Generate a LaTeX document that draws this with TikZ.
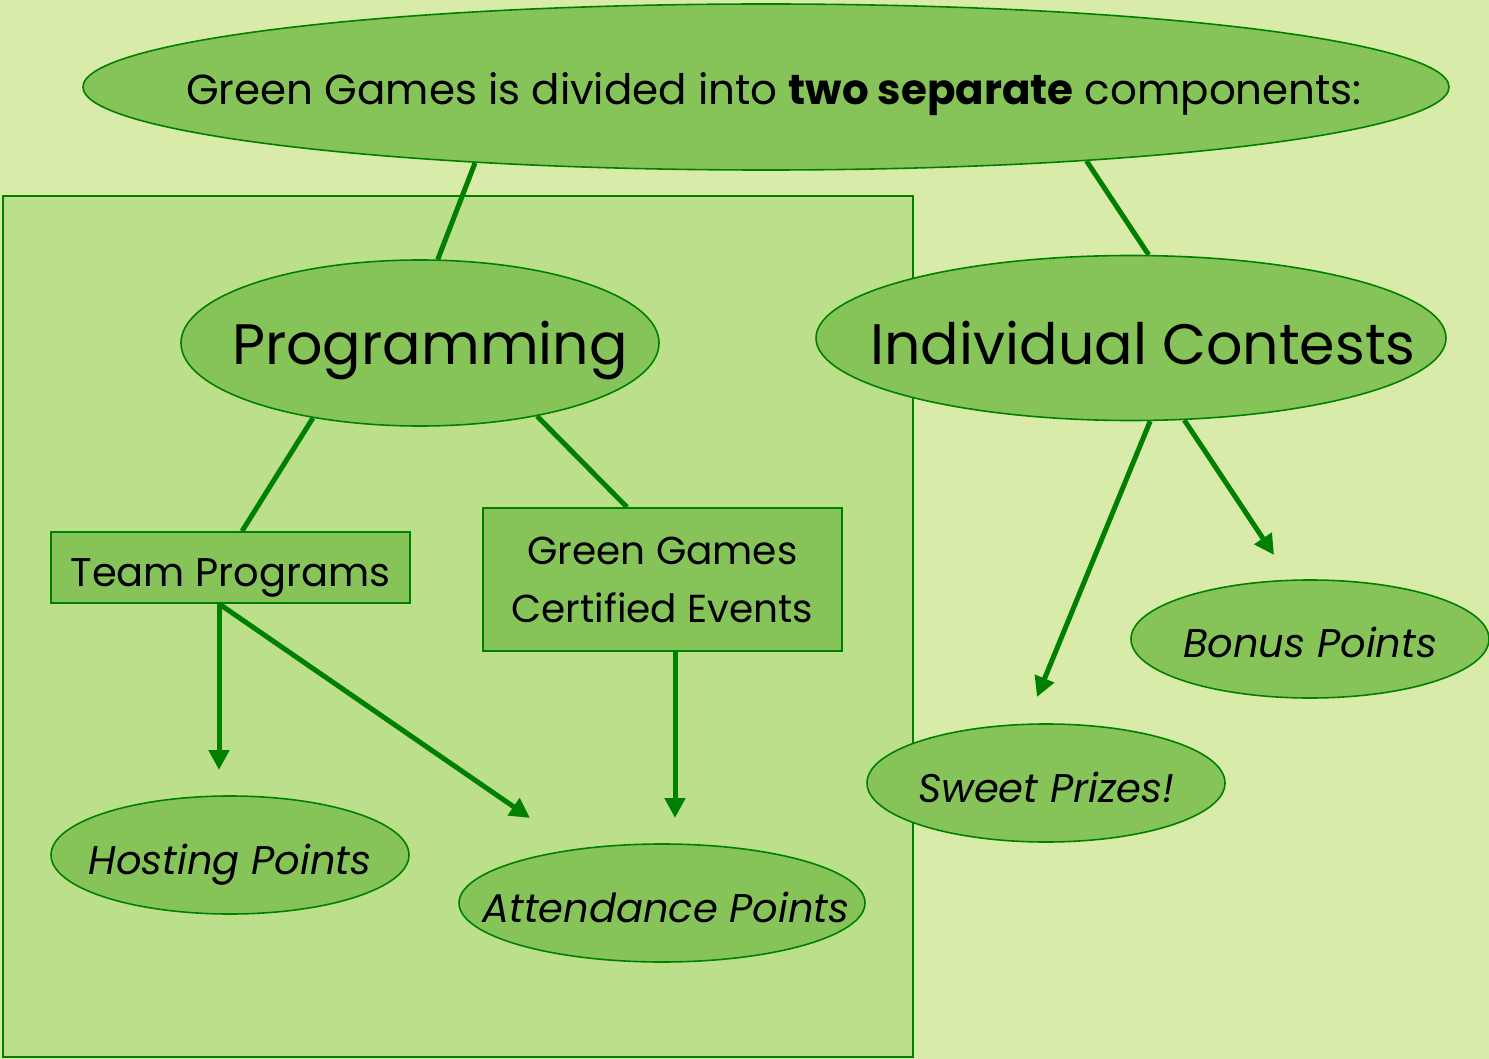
\documentclass[tikz,border=0pt]{standalone}
\usepackage{fontspec}
\setmainfont{Poppins}
\usetikzlibrary{shapes.geometric,arrows.meta,calc}
\definecolor{bgc}{HTML}{D8EBA8}
\definecolor{boxc}{HTML}{BCDF8C}
\definecolor{ellc}{HTML}{86C45A}
\definecolor{linec}{HTML}{008000}
\newcommand{\zw}[2][18pt]{\makebox[0pt]{\smash{\raisebox{-#1}{#2}}}}
\begin{document}
\begin{tikzpicture}[x=1pt,y=-1pt,
  ell/.style={ellipse, draw=linec, fill=ellc, line width=1.6pt, inner sep=0pt},
  rbox/.style={rectangle, draw=linec, fill=ellc, line width=1.6pt, inner sep=0pt},
  conn/.style={draw=linec, line width=5pt},
  arr/.style={conn, -{Triangle[length=20pt,width=20pt]}}]
\useasboundingbox (0,0) rectangle (1489,1059);
\fill[bgc] (0,0) rectangle (1489,1059);
\draw[linec, fill=boxc, line width=1.6pt] (3,196) rectangle (913,1057);

\node[ell, minimum width=1366pt, minimum height=166pt] (top) at (766,87)
  {\fontsize{42pt}{48pt}\selectfont\zw[18pt]{\hspace{16pt}Green Games is divided into \textbf{two separate} components:}};
\node[ell, minimum width=478pt, minimum height=166pt] (prog) at (420,343)
  {\fontsize{57pt}{64pt}\selectfont\zw[21pt]{\hspace{20pt}Programming}};
\node[ell, minimum width=630pt, minimum height=165pt] (ind) at (1131,338)
  {\fontsize{57pt}{64pt}\selectfont\zw[26pt]{\hspace{24pt}Individual Contests}};
\node[rbox, minimum width=359pt, minimum height=71pt] (tp) at (230.5,567.5)
  {\fontsize{40pt}{46pt}\selectfont\zw[19pt]{Team Programs}};
\node[rbox, minimum width=359pt, minimum height=143pt, align=center,
  font=\fontsize{39pt}{58pt}\selectfont] (gg) at (662.5,579.5)
  {Green Games\\Certified Events};
\node[ell, minimum width=358pt, minimum height=118pt] (host) at (230,855)
  {\fontsize{40pt}{46pt}\selectfont\itshape\zw[19pt]{Hosting Points}};
\node[ell, minimum width=406pt, minimum height=118pt] (att) at (662,903)
  {\fontsize{40pt}{46pt}\selectfont\itshape\zw[19pt]{\hspace{8pt}Attendance Points}};
\node[ell, minimum width=358pt, minimum height=118pt] (bonus) at (1310,639)
  {\fontsize{40pt}{46pt}\selectfont\itshape\zw[18pt]{Bonus Points}};
\node[ell, minimum width=358pt, minimum height=118pt] (sweet) at (1046,783)
  {\fontsize{40pt}{46pt}\selectfont\itshape\zw[19pt]{Sweet Prizes!}};

\coordinate (e1) at (219,770);
\coordinate (e2) at (530,818);
\coordinate (e3) at (675,818);
\coordinate (e4) at (1037,697);
\coordinate (e5) at (1274,555);

\draw[conn] ($(top.center)+(-291,76)$) -- (prog.78.4);
\draw[conn] (top.-13.4) -- (ind.78.3);
\draw[conn] (prog.-145.2) -- ([xshift=11.5pt]tp.north);
\draw[conn] (prog.-32.6) -- ([xshift=-35.5pt]gg.north);
\draw[arr] ([xshift=-11.5pt]tp.south) -- (e1);
\draw[arr] ([xshift=-11.5pt]tp.south) -- (e2);
\draw[arr] ([xshift=12.5pt]gg.south) -- (e3);
\draw[arr] (ind.-77.3) -- (e4);
\draw[arr] (ind.-57) -- (e5);
\end{tikzpicture}
\end{document}
